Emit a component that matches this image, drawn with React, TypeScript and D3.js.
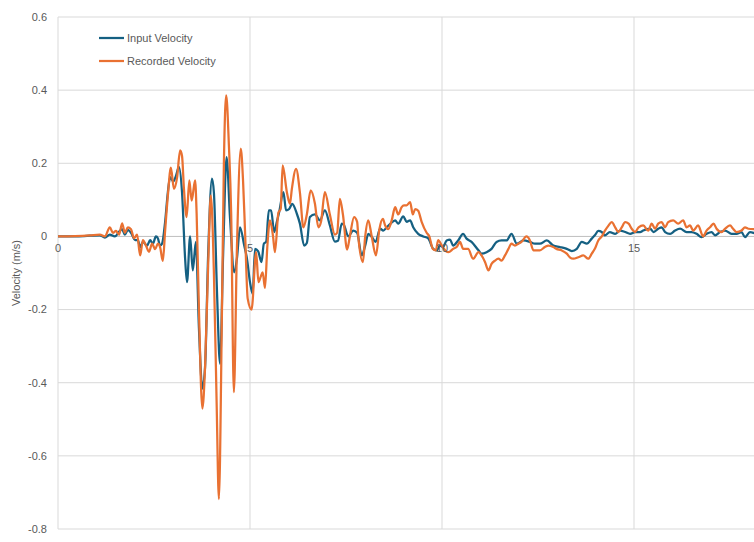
import React from "react";
import * as d3 from "d3";

const inputT = [0,0.44,0.83,1.09,1.22,1.35,1.48,1.61,1.67,1.74,1.82,1.90,2.01,2.08,2.14,2.21,2.32,2.40,2.47,2.55,2.60,2.66,2.71,2.79,2.86,2.92,3.00,3.07,3.15,3.23,3.31,3.36,3.44,3.51,3.59,3.67,3.76,3.83,3.91,4.01,4.06,4.14,4.22,4.30,4.39,4.48,4.59,4.66,4.74,4.85,4.92,5.0,5.07,5.13,5.21,5.30,5.36,5.42,5.49,5.55,5.63,5.70,5.76,5.87,5.94,6.02,6.10,6.22,6.30,6.41,6.48,6.56,6.69,6.82,6.95,7.08,7.21,7.29,7.39,7.45,7.56,7.69,7.79,7.91,8.0,8.08,8.17,8.27,8.39,8.47,8.56,8.66,8.78,8.86,8.99,9.08,9.17,9.25,9.38,9.51,9.64,9.77,9.86,9.95,10.03,10.12,10.21,10.29,10.42,10.55,10.64,10.77,10.95,11.03,11.16,11.29,11.42,11.55,11.68,11.81,11.95,12.12,12.29,12.42,12.55,12.73,12.90,13.07,13.25,13.38,13.51,13.64,13.77,13.90,13.98,14.07,14.16,14.24,14.37,14.51,14.64,14.77,14.90,15.03,15.16,15.24,15.42,15.51,15.63,15.72,15.81,15.94,16.07,16.20,16.37,16.50,16.63,16.76,16.89,17.02,17.11,17.24,17.37,17.54,17.67,17.80,17.89,18.02,18.13];
const inputV = [0,0,0.002,0.003,-0.003,0.005,0,0.015,0.02,0.005,0.018,0.01,-0.01,-0.01,-0.03,-0.015,-0.025,-0.01,-0.02,0,-0.005,-0.025,-0.02,0.04,0.12,0.162,0.15,0.165,0.19,0.12,-0.06,-0.125,0,-0.093,-0.015,-0.25,-0.416,-0.357,-0.05,0.158,0.12,-0.15,-0.348,-0.05,0.217,0.05,-0.098,-0.06,0.025,-0.025,-0.06,-0.125,-0.157,-0.034,-0.04,-0.07,-0.02,-0.015,0.071,0.071,0.012,0.04,0.067,0.121,0.071,0.075,0.089,0.062,0.035,-0.025,-0.018,0.053,0.06,0.044,0.071,0.03,-0.014,-0.012,0.035,0.03,0,0.016,0.01,-0.052,-0.025,0.007,-0.001,-0.015,0.021,0.016,0.025,0.035,0.044,0.035,0.055,0.04,0.044,0.025,0.007,0,-0.005,-0.034,-0.038,-0.025,-0.029,-0.011,-0.009,-0.025,-0.011,0.007,-0.006,-0.015,-0.038,-0.047,-0.043,-0.034,-0.015,-0.011,-0.011,0.007,-0.02,-0.011,-0.015,-0.02,-0.02,-0.011,-0.025,-0.029,-0.034,-0.04,-0.034,-0.015,-0.02,-0.006,0.003,0.015,0.012,0.003,0.012,0.007,0.016,0.012,0.007,0.012,0.012,0.016,0.021,0.012,0.021,0.025,0.012,0.007,0.016,0.021,0.012,0.012,0.007,-0.002,0.007,0.012,0.003,0.012,0.016,0.007,0.007,0.012,-0.002,0.012,0.009];

const recT = [0,0.44,0.83,1.09,1.22,1.35,1.43,1.51,1.59,1.67,1.74,1.82,1.90,1.98,2.06,2.14,2.21,2.29,2.37,2.45,2.53,2.60,2.66,2.73,2.79,2.86,2.94,3.02,3.10,3.18,3.23,3.28,3.35,3.42,3.48,3.57,3.61,3.67,3.76,3.83,3.91,3.98,4.06,4.13,4.19,4.27,4.32,4.38,4.45,4.51,4.58,4.66,4.76,4.82,4.87,4.94,5.04,5.16,5.22,5.28,5.33,5.39,5.45,5.52,5.60,5.65,5.74,5.80,5.85,5.96,6.04,6.09,6.20,6.30,6.39,6.48,6.58,6.69,6.78,6.85,6.95,7.08,7.21,7.27,7.34,7.42,7.53,7.60,7.71,7.79,7.82,7.94,8.0,8.08,8.17,8.28,8.37,8.46,8.52,8.60,8.69,8.78,8.86,8.95,9.01,9.08,9.17,9.24,9.30,9.38,9.47,9.60,9.67,9.76,9.84,9.90,9.99,10.10,10.17,10.29,10.38,10.47,10.55,10.68,10.81,10.95,11.03,11.12,11.21,11.29,11.38,11.47,11.55,11.64,11.73,11.81,11.90,11.99,12.07,12.20,12.29,12.38,12.47,12.55,12.68,12.77,12.90,12.98,13.11,13.25,13.33,13.42,13.55,13.68,13.81,13.90,13.98,14.07,14.16,14.24,14.33,14.42,14.51,14.59,14.68,14.77,14.86,14.94,15.03,15.12,15.24,15.37,15.46,15.55,15.63,15.72,15.81,15.89,16.02,16.15,16.28,16.37,16.46,16.54,16.67,16.80,16.89,16.98,17.07,17.15,17.28,17.37,17.50,17.58,17.67,17.80,17.89,17.98,18.13];
const recV = [0,0.001,0.003,0.005,0,0.025,0.01,0.015,0.005,0.036,0.01,0.025,0.02,-0.005,0.005,-0.052,-0.01,-0.025,-0.042,-0.02,-0.035,-0.02,-0.03,-0.067,0.016,0.11,0.188,0.13,0.16,0.235,0.22,0.13,0.053,0.153,0.098,0.153,0.063,-0.2,-0.471,-0.357,-0.08,0.112,-0.1,-0.45,-0.718,-0.2,0.2,0.386,0.25,0.062,-0.426,-0.03,0.24,0.15,0.016,-0.17,-0.2,-0.043,-0.125,-0.11,-0.098,-0.141,-0.03,0.044,0,-0.043,0.065,0.075,0.194,0.121,0.089,0.13,0.185,0.12,0.025,0.06,0.126,0.09,0.025,0.04,0.121,0.06,0.005,0.01,0.103,0.06,-0.036,0,0.053,0.04,0,-0.07,0,0.044,0,-0.052,0.02,0.048,0.03,0.02,0.044,0.08,0.06,0.08,0.085,0.085,0.094,0.06,0.075,0.07,0.04,0.01,0,-0.034,-0.038,-0.01,-0.024,-0.04,-0.043,-0.034,-0.029,-0.015,-0.034,-0.034,-0.061,-0.043,-0.052,-0.07,-0.093,-0.075,-0.066,-0.061,-0.066,-0.052,-0.034,-0.02,-0.025,-0.02,-0.015,0,-0.011,-0.038,-0.038,-0.038,-0.029,-0.025,-0.029,-0.034,-0.038,-0.047,-0.057,-0.061,-0.057,-0.052,-0.061,-0.047,-0.034,-0.011,0,0.015,0.029,0.039,0.025,0.012,0.025,0.039,0.035,0.021,0.012,0.025,0.03,0.016,0.035,0.021,0.035,0.039,0.025,0.039,0.044,0.035,0.044,0.025,0.03,0.016,0.03,0,0.016,0.025,0.035,0.021,0.012,0.021,0.03,0.021,0.012,0.016,0.025,0.021,0.02];

const xTicks = [0, 5, 10, 15];
const yTicks = [-0.8, -0.6, -0.4, -0.2, 0, 0.2, 0.4, 0.6];
const seriesNames = ["Input Velocity", "Recorded Velocity"];
const seriesColors = ["#156082", "#E97132"];

export default function App() {
  const W = 754, H = 542;
  const left = 58, right = 754, top = 17, bottom = 529;
  const x = d3.scaleLinear().domain([0, 18.125]).range([left, right]);
  const y = d3.scaleLinear().domain([-0.8, 0.6]).range([bottom, top]);
  const line = d3.line<[number, number]>().x(d => x(d[0])).y(d => y(d[1])).curve(d3.curveMonotoneX);
  const s1 = inputT.map((t, i) => [t, inputV[i]] as [number, number]);
  const s2 = recT.map((t, i) => [t, recV[i]] as [number, number]);
  const font = "'Liberation Sans', Arial, sans-serif";
  const fmt = (v: number) => (v === 0 ? "0" : d3.format(".1f")(v).replace("−", "-"));
  return (
    <svg width={W} height={H} style={{ position: "absolute", left: 0, top: 0, background: "#fff" }}>
      <defs>
        <clipPath id="plot"><rect x={left} y={0} width={right - left} height={H} /></clipPath>
      </defs>
      {yTicks.map(v => (
        <line key={"gy" + v} x1={left} x2={right} y1={y(v)} y2={y(v)} stroke={v === 0 ? "#BFBFBF" : "#D9D9D9"} strokeWidth={1} />
      ))}
      {xTicks.map(v => (
        <line key={"gx" + v} x1={x(v)} x2={x(v)} y1={top} y2={bottom} stroke="#D9D9D9" strokeWidth={1} />
      ))}
      {yTicks.map(v => (
        <text key={"ty" + v} x={47} y={y(v)} dy="0.35em" textAnchor="end" fontSize={11} fill="#595959" fontFamily={font}>{fmt(v)}</text>
      ))}
      <text transform={`translate(20,${(top + bottom) / 2}) rotate(-90)`} textAnchor="middle" fontSize={11} fill="#595959" fontFamily={font}>Velocity (m/s)</text>
      <g clipPath="url(#plot)">
        <path d={line(s1) || ""} fill="none" stroke={seriesColors[0]} strokeWidth={2.25} strokeLinejoin="round" />
        <path d={line(s2) || ""} fill="none" stroke={seriesColors[1]} strokeWidth={2.25} strokeLinejoin="round" />
      </g>
      {xTicks.map(v => (
        <text key={"tx" + v} x={x(v)} y={y(0) + 16} textAnchor="middle" fontSize={11} fill="#595959" fontFamily={font}>{v}</text>
      ))}
      {seriesNames.map((n, i) => (
        <g key={n} transform={`translate(99,${38 + i * 23})`}>
          <line x1={0} x2={25} y1={0} y2={0} stroke={seriesColors[i]} strokeWidth={2.25} />
          <text x={28} y={0} dy="0.35em" fontSize={11} fill="#595959" fontFamily={font}>{n}</text>
        </g>
      ))}
    </svg>
  );
}
